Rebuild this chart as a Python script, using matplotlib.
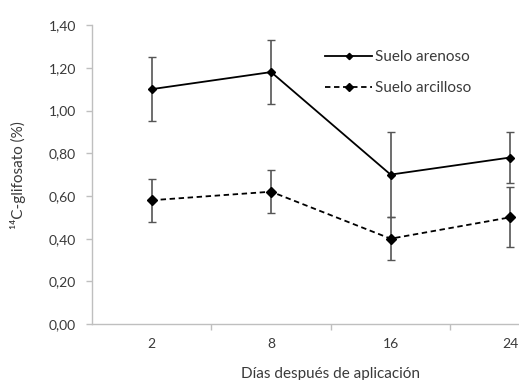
import matplotlib
matplotlib.use('Agg')
import matplotlib.pyplot as plt

dias = ['2', '8', '16', '24']
arenoso = [1.10, 1.18, 0.70, 0.78]
arenoso_err = [0.15, 0.15, 0.20, 0.12]
arcilloso = [0.58, 0.62, 0.40, 0.50]
arcilloso_err = [0.10, 0.10, 0.10, 0.14]

plt.rcParams['font.family'] = ['Lato', 'DejaVu Sans']
txt = '#3a3a3a'
axc = '#bfbfbf'

fig = plt.figure(figsize=(5.19, 3.80), dpi=100)
ax = fig.add_axes([0.177, 0.147, 0.921, 0.787])

x = list(range(len(dias)))
ax.errorbar(x, arenoso, yerr=arenoso_err, color='black', lw=1.3,
            marker='D', ms=4, ecolor='#555555', elinewidth=1.2, capsize=3,
            label='Suelo arenoso')
ax.errorbar(x, arcilloso, yerr=arcilloso_err, color='black', lw=1.3, ls='--',
            marker='D', ms=5.5, ecolor='#555555', elinewidth=1.2, capsize=3,
            label='Suelo arcilloso', dashes=(3, 2))

ax.set_xlim(-0.5, 3.5)
ax.set_ylim(0, 1.40)
ax.set_yticks([0, 0.2, 0.4, 0.6, 0.8, 1.0, 1.2, 1.4])
ax.set_yticklabels([f'{v:.2f}'.replace('.', ',') for v in ax.get_yticks()])
ax.set_xticks(x)
ax.set_xticklabels(dias)
ax.set_xticks([0.5, 1.5, 2.5], minor=True)
ax.tick_params(axis='x', which='major', length=0, pad=10)
ax.tick_params(axis='x', which='minor', length=4, color=axc, width=1)
ax.tick_params(axis='y', length=4, color=axc, width=1, pad=7.5)
ax.tick_params(labelsize=10, labelcolor=txt)

for s in ['top', 'right']:
    ax.spines[s].set_visible(False)
for s in ['left', 'bottom']:
    ax.spines[s].set_color(axc)
    ax.spines[s].set_linewidth(1)

ax.set_xlabel('Días después de aplicación', fontsize=11, color=txt, labelpad=12)
ax.set_ylabel('¹⁴C-glifosato (%)', fontsize=11, color=txt, labelpad=16)

handles, labels = ax.get_legend_handles_labels()
handles = [h[0] for h in handles]
ax.legend(handles, labels, loc='upper left', bbox_to_anchor=(0.626, 0.868),
          bbox_transform=fig.transFigure, borderaxespad=0, borderpad=0,
          frameon=False, fontsize=11, labelcolor=txt, handlelength=3.1,
          handletextpad=0.2, labelspacing=1.1, markerscale=0.8)

fig.savefig('out.png', dpi=100)
